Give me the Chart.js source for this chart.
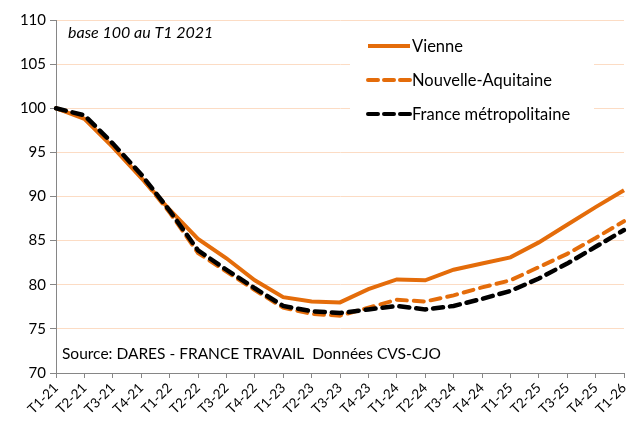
<!DOCTYPE html>
<html>
<head>
<meta charset="utf-8">
<script src="https://cdn.jsdelivr.net/npm/chart.js@4.4.1/dist/chart.umd.min.js"></script>
<style>
  html, body { margin: 0; padding: 0; background: #fff; }
  #wrap { width: 627px; height: 423px; }
</style>
</head>
<body>
<div id="wrap"><canvas id="graphic" width="627" height="423"></canvas></div>
<script>
var trimestres = ['T1-21','T2-21','T3-21','T4-21','T1-22','T2-22','T3-22','T4-22','T1-23','T2-23','T3-23',
                  'T4-23','T1-24','T2-24','T3-24','T4-24','T1-25','T2-25','T3-25','T4-25','T1-26'];
var vienne = [100, 98.8, 95.6, 92.1, 88.5, 85.2, 83.0, 80.5, 78.6, 78.1, 78.0,
              79.5, 80.6, 80.5, 81.7, 82.4, 83.1, 84.8, 86.8, 88.8, 90.7];
var nouvelleAquitaine = [100, 99.0, 95.7, 92.2, 88.2, 83.6, 81.5, 79.4, 77.4, 76.7, 76.5,
                         77.4, 78.3, 78.1, 78.8, 79.7, 80.5, 82.0, 83.5, 85.3, 87.2];
var franceMetro = [100, 99.2, 96.0, 92.5, 88.4, 83.9, 81.7, 79.6, 77.6, 77.0, 76.8,
                   77.2, 77.6, 77.2, 77.6, 78.4, 79.3, 80.7, 82.4, 84.3, 86.2];
var yTicks = [70, 75, 80, 85, 90, 95, 100, 105, 110];

var orange = '#E46C0A';
var police = 'Lato, "Open Sans", sans-serif';

// legende et textes dans la zone du graphique
var textes = {
    id: 'textes',
    afterDraw: function(chart) {
        var c = chart.ctx;
        c.save();
        c.fillStyle = '#fff';
        c.fillRect(350, 26, 244, 102);

        var items = [
            {label: 'Vienne', color: orange, dash: []},
            {label: 'Nouvelle-Aquitaine', color: orange, dash: [10, 6]},
            {label: 'France métropolitaine', color: '#000', dash: [10, 6]}
        ];
        items.forEach(function(it, i) {
            var y = 46 + i * 34;
            c.strokeStyle = it.color;
            c.lineWidth = 4;
            c.lineCap = it.dash.length ? 'round' : 'butt';
            c.setLineDash(it.dash);
            c.beginPath();
            c.moveTo(368, y);
            c.lineTo(410, y);
            c.stroke();
            c.setLineDash([]);
            c.fillStyle = '#000';
            c.font = '16.5px ' + police;
            c.textBaseline = 'middle';
            c.fillText(it.label, 412, y + 1);
        });

        c.font = 'italic 16px ' + police;
        c.fillStyle = '#000';
        c.textBaseline = 'middle';
        c.fillText('base 100 au T1 2021', 68, 33);

        c.font = '15.5px ' + police;
        c.fillText('Source: DARES - FRANCE TRAVAIL  Données CVS-CJO', 62, 354);
        c.restore();
    }
};

var chartGraph = new Chart(document.getElementById('graphic'), {
    type: 'line',
    data: {
        labels: trimestres,
        datasets: [{
            label: 'Vienne',
            data: vienne,
            borderColor: orange,
            borderWidth: 4,
            pointRadius: 0,
            tension: 0,
            order: 3
        }, {
            label: 'Nouvelle-Aquitaine',
            data: nouvelleAquitaine,
            borderColor: orange,
            borderWidth: 4,
            borderDash: [10, 7],
            borderCapStyle: 'round',
            pointRadius: 0,
            tension: 0,
            order: 2
        }, {
            label: 'France métropolitaine',
            data: franceMetro,
            borderColor: '#000',
            borderWidth: 4.5,
            borderDash: [10, 7],
            borderCapStyle: 'round',
            pointRadius: 0,
            tension: 0,
            order: 1
        }]
    },
    options: {
        responsive: false,
        animation: false,
        layout: { padding: { top: 20, right: 3, left: 0, bottom: 0 } },
        plugins: {
            legend: { display: false },
            tooltip: { enabled: false }
        },
        scales: {
            x: {
                offset: false,
                grid: { drawOnChartArea: false, drawTicks: true, tickLength: 5, color: '#868686' },
                border: { color: '#868686', width: 1 },
                ticks: {
                    minRotation: 45, maxRotation: 45, autoSkip: false,
                    color: '#000', font: { family: police, size: 13.5 }, padding: 2
                },
                afterFit: function(scale) {
                    scale.height = 50;
                    scale.paddingRight = 0;
                    scale.paddingLeft = 0;
                }
            },
            y: {
                min: 70, max: 110,
                afterBuildTicks: function(scale) {
                    scale.ticks = yTicks.map(function(v) { return {value: v}; });
                },
                grid: { color: '#FCDCC4', tickColor: '#868686', tickLength: 6 },
                border: { color: '#868686', width: 1 },
                ticks: { color: '#000', font: { family: police, size: 15 }, padding: 4 },
                afterFit: function(scale) { scale.width = 56; }
            }
        }
    },
    plugins: [textes]
});
</script>
</body>
</html>
